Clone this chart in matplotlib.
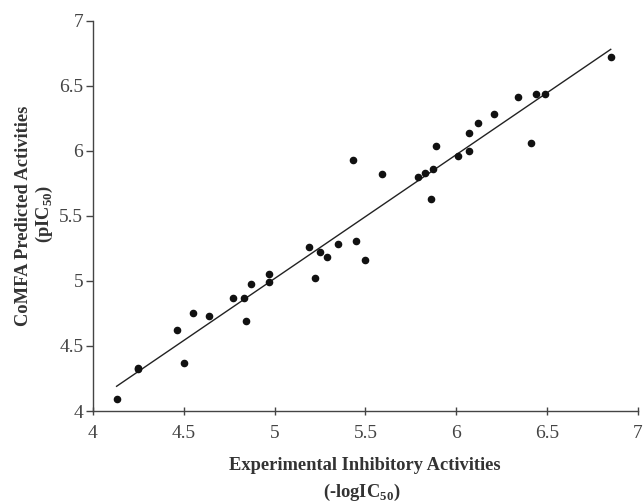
import matplotlib
matplotlib.use("Agg")
import matplotlib.pyplot as plt

plt.rcParams['font.family'] = ['Liberation Serif', 'DejaVu Serif']
plt.rcParams['mathtext.fontset'] = 'custom'
plt.rcParams['mathtext.rm'] = 'Liberation Serif'
plt.rcParams['mathtext.bf'] = 'Liberation Serif:bold'

# experimental vs predicted activities
experimental = [4.13, 4.25, 4.25, 4.46, 4.50, 4.55, 4.64, 4.77, 4.83, 4.84,
                4.87, 4.97, 4.97, 5.19, 5.22, 5.25, 5.29, 5.35, 5.43, 5.45,
                5.50, 5.59, 5.79, 5.83, 5.86, 5.87, 5.89, 6.01, 6.07, 6.07,
                6.12, 6.21, 6.34, 6.41, 6.44, 6.49, 6.85]
predicted = [4.09, 4.33, 4.32, 4.62, 4.37, 4.75, 4.73, 4.87, 4.87, 4.69,
             4.98, 5.05, 4.99, 5.26, 5.02, 5.22, 5.18, 5.28, 5.93, 5.31,
             5.16, 5.82, 5.80, 5.83, 5.63, 5.86, 6.04, 5.96, 6.00, 6.14,
             6.21, 6.28, 6.41, 6.06, 6.44, 6.44, 6.72]

# fitted line end points
fit_x = [4.13, 6.85]
fit_y = [4.19, 6.78]

ticks = [4, 4.5, 5, 5.5, 6, 6.5, 7]
tick_labels = ['4', '4.5', '5', '5.5', '6', '6.5', '7']

fig = plt.figure(figsize=(6.43, 5.03), dpi=100)
ax = fig.add_axes([0.1446, 0.1829, 0.8476, 0.7759])

ax.plot(fit_x, fit_y, color='#222222', linewidth=1.0)
ax.scatter(experimental, predicted, s=20, color='#111111', zorder=3)

ax.set_xlim(4, 7)
ax.set_ylim(4, 7)
ax.set_xticks(ticks)
ax.set_xticklabels(tick_labels)
ax.set_yticks(ticks)
ax.set_yticklabels(tick_labels)

for side in ['top', 'right']:
    ax.spines[side].set_visible(False)
for side in ['left', 'bottom']:
    ax.spines[side].set_color('#444444')
    ax.spines[side].set_linewidth(1.0)

ax.tick_params(axis='y', direction='out', length=5, width=1, color='#444444',
               labelsize=14, labelcolor='#444444', pad=2)
ax.tick_params(axis='x', direction='inout', length=6, width=1, color='#444444',
               labelsize=14, labelcolor='#444444', pad=7)

fig.text(365 / 643, 1 - 465 / 503, 'Experimental Inhibitory Activities',
         ha='center', va='center', fontsize=13.3, fontweight='bold', color='#333333')
fig.text(362 / 643, 1 - 492 / 503, r'(-logIC$_{\mathbf{50}}$)',
         ha='center', va='center', fontsize=13.3, fontweight='bold', color='#333333')
fig.text(24 / 643, 1 - 216 / 503, 'CoMFA Predicted Activities',
         ha='center', va='center', rotation=90, fontsize=13.3, fontweight='bold', color='#333333')
fig.text(44 / 643, 1 - 214 / 503, r'(pIC$_{\mathbf{50}}$)',
         ha='center', va='center', rotation=90, fontsize=13.3, fontweight='bold', color='#333333')

fig.savefig('out.png', dpi=100)
